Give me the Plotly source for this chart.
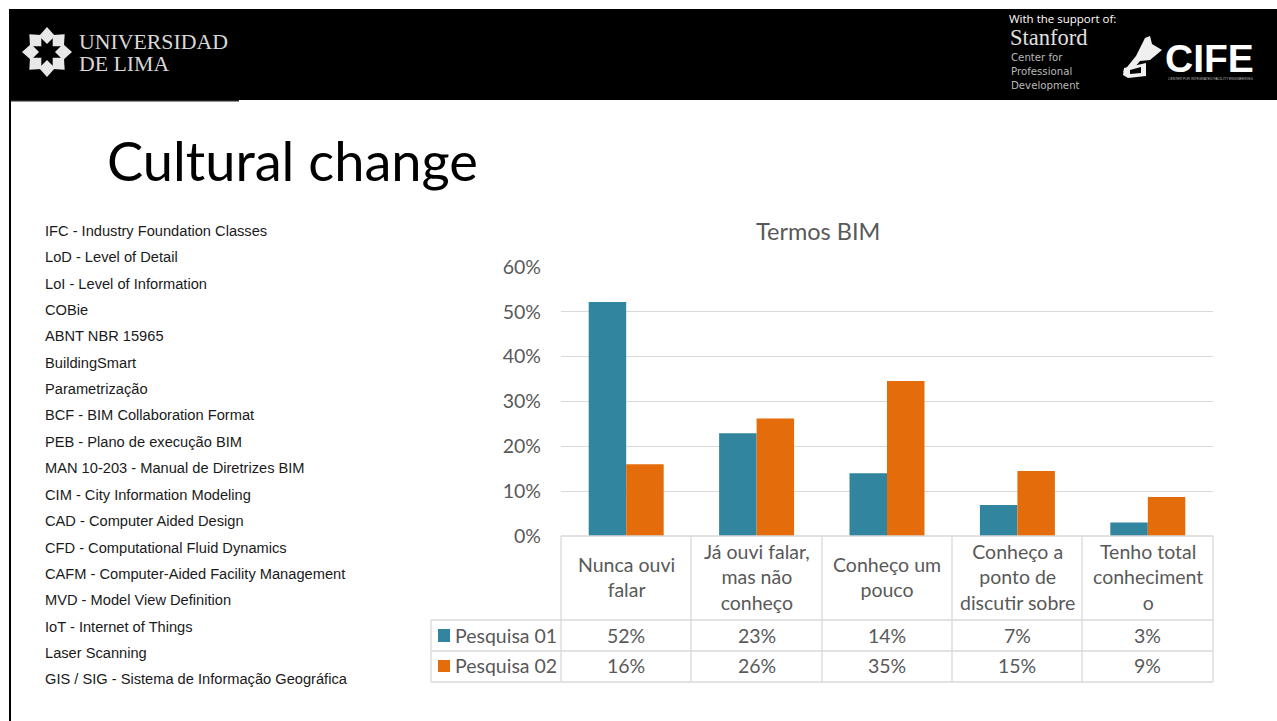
import math
import plotly.graph_objects as go

categories = ["Nunca ouvi falar", "Já ouvi falar, mas não conheço", "Conheço um pouco",
              "Conheço a ponto de discutir sobre", "Tenho total conhecimento"]
category_labels = ["Nunca ouvi<br>falar", "Já ouvi falar,<br>mas não<br>conheço", "Conheço um<br>pouco",
                   "Conheço a<br>ponto de<br>discutir sobre", "Tenho total<br>conheciment<br>o"]
series_names = ["Pesquisa 01", "Pesquisa 02"]
pesquisa_01 = [52.2, 22.9, 14.0, 6.9, 3.0]
pesquisa_02 = [16.0, 26.2, 34.6, 14.5, 8.7]
table_01 = ["52%", "23%", "14%", "7%", "3%"]
table_02 = ["16%", "26%", "35%", "15%", "9%"]
y_ticks = [0, 10, 20, 30, 40, 50, 60]
y_tick_labels = ["0%", "10%", "20%", "30%", "40%", "50%", "60%"]
terms = ["IFC - Industry Foundation Classes", "LoD - Level of Detail", "LoI - Level of Information", "COBie",
         "ABNT NBR 15965", "BuildingSmart", "Parametrização", "BCF - BIM Collaboration Format",
         "PEB - Plano de execução BIM", "MAN 10-203 - Manual de Diretrizes BIM", "CIM - City Information Modeling",
         "CAD - Computer Aided Design", "CFD - Computational Fluid Dynamics",
         "CAFM - Computer-Aided Facility Management", "MVD - Model View Definition", "IoT - Internet of Things",
         "Laser Scanning", "GIS / SIG - Sistema de Informação Geográfica"]
term_y = [231, 257, 284, 310, 336, 363, 389, 415, 442, 468, 495, 521, 548, 574, 600, 627, 653, 679]

W, H = 1277, 721
TEAL, ORANGE = "#31859F", "#E46C0A"
GREY, LINE = "#595959", "#D9D9D9"
FONT = "Lato"
px = lambda x: x / W
py = lambda y: 1 - y / H

fig = go.Figure()
for name, vals, col in [(series_names[0], pesquisa_01, TEAL), (series_names[1], pesquisa_02, ORANGE)]:
    fig.add_bar(x=categories, y=vals, name=name, marker=dict(color=col, line=dict(width=0)))

shapes, ann = [], []

def rect(x0, y0, x1, y1, col):
    shapes.append(dict(type="rect", xref="paper", yref="paper", x0=px(x0), x1=px(x1), y0=py(y0), y1=py(y1),
                       fillcolor=col, line=dict(width=0), layer="above"))

def line(x0, y0, x1, y1, col=LINE, w=1.3):
    shapes.append(dict(type="line", xref="paper", yref="paper", x0=px(x0), x1=px(x1), y0=py(y0), y1=py(y1),
                       line=dict(color=col, width=w), layer="above"))

def poly(pts, col):
    path = "M " + " L ".join(f"{px(p[0])},{py(p[1])}" for p in pts) + " Z"
    shapes.append(dict(type="path", xref="paper", yref="paper", path=path, fillcolor=col,
                       line=dict(width=0), layer="above"))

def text(x, y, s, size, col=GREY, family=FONT, xanchor="left", xref="paper"):
    ann.append(dict(xref=xref, yref="paper", x=px(x) if xref == "paper" else x, y=py(y), text=s, showarrow=False,
                    xanchor=xanchor, yanchor="middle", font=dict(size=size, color=col, family=family),
                    borderpad=0, borderwidth=0))

# slide chrome
rect(9, 9, 1277, 100, "#000000")
rect(9, 100, 239, 101.5, "#222222")
rect(9, 100, 11, 721, "#000000")

# star logo
cx, cy = 47, 52
for i in range(8):
    a = i * math.pi / 4
    r0, r1, rm, w = 8, 25, 16, 8
    ux, uy = math.cos(a), math.sin(a)
    poly([(cx + ux * r0, cy + uy * r0), (cx + ux * rm - uy * w, cy + uy * rm + ux * w),
          (cx + ux * r1, cy + uy * r1), (cx + ux * rm + uy * w, cy + uy * rm - ux * w)], "#E8E8E8")

text(79, 42, "UNIVERSIDAD", 21.8, "#D8D8D8", "Liberation Serif")
text(79, 64, "DE LIMA", 21.8, "#D8D8D8", "Liberation Serif")
text(1009, 18.5, "With the support of:", 11.5, "#FFFFFF", "Open Sans")
text(1010, 38, "Stanford", 22.5, "#E0E0E0", "Liberation Serif")
for yy, s in [(58, "Center for"), (72, "Professional"), (86, "Development")]:
    text(1011, yy, s, 10.2, "#B8B8B8", "DejaVu Sans")
text(1165, 59, "CIFE", 39, "#FFFFFF", "Liberation Sans")
ann[-1]["font"]["weight"] = "bold"
text(1168, 79, "CENTER FOR INTEGRATED FACILITY ENGINEERING", 3.4, "#BBBBBB", "Liberation Sans")
# CIFE bridge mark
poly([(1123, 72), (1136, 56), (1145, 38), (1150, 36), (1152, 44), (1162, 50), (1150, 60), (1140, 61), (1130, 73)], "#F0F0F0")
poly([(1124, 68), (1146, 63), (1146, 76), (1128, 78), (1123, 75)], "#F0F0F0")
poly([(1130, 70), (1141, 67), (1141, 73), (1130, 74)], "#000000")

# title and list
text(106.5, 160, "Cultural change", 54.2, "#000000")
for yy, s in zip(term_y, terms):
    text(45, yy, s, 14.65, "#1A1A1A", "Liberation Sans")

# data table
v_lines = [561, 691, 822, 952, 1082, 1213]
for x in v_lines:
    line(x, 536, x, 682)
line(431, 620, 431, 682)
line(561, 536, 1213, 536)
for yy in (620, 651, 682):
    line(431, yy, 1213, yy)
for cat, lab, a, b in zip(categories, category_labels, table_01, table_02):
    text(cat, 577.3, lab, 19.5, GREY, FONT, "center", "x")
    text(cat, 635.3, a, 19.5, GREY, FONT, "center", "x")
    text(cat, 665.8, b, 19.5, GREY, FONT, "center", "x")
rect(438, 629, 450, 642, TEAL)
rect(438, 660, 450, 672, ORANGE)
text(455, 635.3, series_names[0], 19.5)
text(455, 665.5, series_names[1], 19.5)
text(818, 230.5, "Termos BIM", 23.5, GREY, FONT, "center")

fig.update_layout(
    width=W, height=H, margin=dict(l=0, r=0, t=0, b=0, autoexpand=False), paper_bgcolor="white", plot_bgcolor="white",
    barmode="group", bargap=0.425, bargroupgap=0, showlegend=False, shapes=shapes, annotations=ann,
    font=dict(family=FONT, color=GREY),
    xaxis=dict(domain=[px(561), px(1213)], showticklabels=False, showgrid=False, zeroline=False, ticks="",
               automargin=False, categoryorder="array", categoryarray=categories),
    yaxis=dict(domain=[py(536), py(267)], range=[0, 60], tickmode="array", tickvals=y_ticks, ticktext=y_tick_labels,
               showgrid=True, gridcolor=LINE, gridwidth=1, zeroline=False, showline=False, ticks="",
               ticklabelstandoff=19, automargin=False, tickfont=dict(size=19.5, color=GREY, family=FONT)),
)
fig.write_html("out.html", config=dict(displayModeBar=False),
               post_script="document.body.style.margin='0';document.documentElement.style.overflow='hidden';")
